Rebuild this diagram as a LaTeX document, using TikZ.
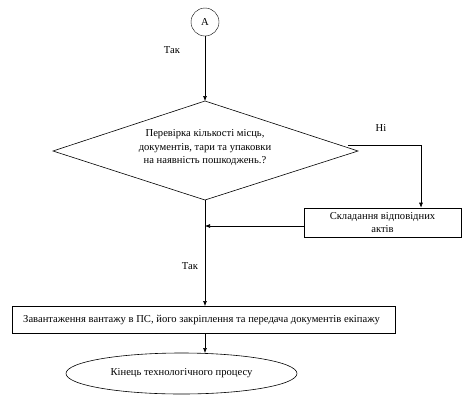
\documentclass[tikz,border=0pt]{standalone}
\usepackage{fontspec}
\setmainfont{Liberation Serif}
\usetikzlibrary{shapes.geometric,arrows.meta}
\begin{document}
\begin{tikzpicture}[x=1pt,y=-1pt,
  every node/.style={font=\fontsize{10.6}{13.5}\selectfont},
  conn/.style={draw, line width=0.6pt, -{Latex[length=5pt,width=4pt]}},
  plain/.style={draw, line width=0.6pt},
  lbl/.style={inner sep=0pt}]
\useasboundingbox (0,0) rectangle (463,416);
\node[circle, draw, minimum size=28pt, inner sep=0pt] (A) at (205,22) {A};
\coordinate (dt) at (205,101);
\coordinate (dl) at (53,151);
\coordinate (dr) at (358,151);
\coordinate (db) at (205,200);
\draw[line width=0.6pt] (dt) -- (dr) -- (db) -- (dl) -- cycle;
\node[align=center, lbl] (dtext) at (205,148) {Перевірка кількості місць,\\документів, тари та упаковки\\на наявність пошкоджень.?};
\node[lbl] (tak1) at (172,50) {Так};
\node[lbl] (ni) at (381,128) {Ні};
\node[draw, line width=0.6pt, minimum width=157pt, minimum height=29pt, align=center, inner sep=1pt] (acts) at (382.5,222.5) {Складання відповідних\\актів};
\node[draw, line width=0.6pt, minimum width=383pt, minimum height=27pt, anchor=north west, inner sep=0pt] (load) at (12,306) {};
\node[anchor=west, lbl] (loadtext) at (23,320) {Завантаження вантажу в ПС, його закріплення та передача документів екіпажу};
\node[ellipse, draw, line width=0.6pt, minimum width=231pt, minimum height=41pt, inner sep=0pt] (end) at (181.5,373.5) {Кінець технологічного процесу};
\node[lbl] (tak2) at (190,266) {Так};
\coordinate (j1) at (348,145);
\coordinate (j2) at (421,145);
\coordinate (j3) at (205,226);
\draw[conn] (A) -- (dt);
\draw[plain] (j1) -- (j2);
\draw[conn] (j2) -- (acts.north -| j2);
\draw[conn] (acts.west |- j3) -- (j3);
\draw[conn] (db) -- (load.north -| db);
\draw[conn] (load.south -| db) -- (205,353);
\end{tikzpicture}
\end{document}
